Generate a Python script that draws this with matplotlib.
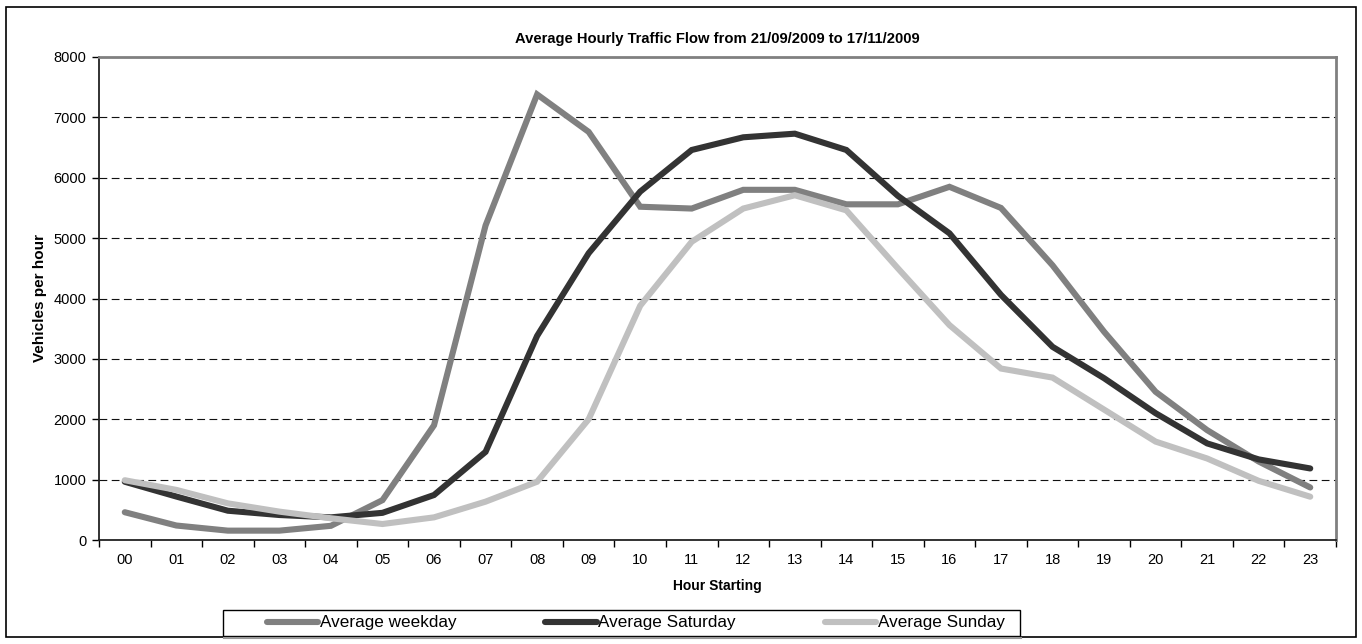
import matplotlib
matplotlib.use("Agg")
import matplotlib.pyplot as plt
from matplotlib.patches import Rectangle
from matplotlib.lines import Line2D

hours = ["00", "01", "02", "03", "04", "05", "06", "07", "08", "09", "10", "11",
         "12", "13", "14", "15", "16", "17", "18", "19", "20", "21", "22", "23"]
weekday = [460, 240, 155, 155, 235, 660, 1900, 5210, 7380, 6760, 5520, 5490,
           5800, 5800, 5560, 5560, 5850, 5500, 4550, 3450, 2455, 1820, 1300, 870]
saturday = [965, 720, 485, 414, 375, 450, 745, 1460, 3380, 4750, 5770, 6460,
            6670, 6730, 6460, 5700, 5080, 4060, 3200, 2680, 2100, 1600, 1335, 1185]
sunday = [990, 830, 607, 470, 360, 265, 375, 635, 965, 2000, 3880, 4940,
          5490, 5710, 5460, 4500, 3560, 2840, 2690, 2160, 1630, 1350, 980, 717]
series_names = ["Average weekday", "Average Saturday", "Average Sunday"]
colors = ["#808080", "#333333", "#c0c0c0"]

plt.rcParams['font.family'] = ['Liberation Sans', 'DejaVu Sans']

W, H = 1362, 644
fig = plt.figure(figsize=(W / 100, H / 100), dpi=100)
fig.patches.append(Rectangle((6/W, 1 - 637/H), 1350/W, 630/H, transform=fig.transFigure,
                             fill=False, edgecolor='black', linewidth=1.2))
ax = fig.add_axes([99/W, 104/H, 1237/W, 483/H])

x = list(range(len(hours)))
for vals, name, c in zip([weekday, saturday, sunday], series_names, colors):
    ax.plot(x, vals, color=c, linewidth=4.4, label=name, solid_capstyle='round',
            solid_joinstyle='miter')

ax.set_xlim(-0.5, 23.5)
ax.set_ylim(0, 8000)
ax.set_yticks(range(0, 8001, 1000))
ax.yaxis.grid(True, linestyle=(0, (7, 4)), color='#111111', linewidth=0.8)
ax.set_axisbelow(True)
ax.set_xticks([i - 0.5 for i in range(25)])
ax.set_xticklabels([])
ax.set_xticks(x, minor=True)
ax.set_xticklabels(hours, minor=True)
ax.tick_params(axis='x', which='minor', length=0, pad=9, labelsize=10.5)
ax.tick_params(axis='x', which='major', length=5, width=1)
ax.tick_params(axis='y', length=5, width=1, labelsize=10.5, pad=4)
for s in ['left', 'bottom']:
    ax.spines[s].set_color('#222222')
    ax.spines[s].set_linewidth(1.3)
for s in ['top', 'right']:
    ax.spines[s].set_color('#808080')
    ax.spines[s].set_linewidth(2)

ax.set_title("Average Hourly Traffic Flow from 21/09/2009 to 17/11/2009",
             fontsize=10.6, fontweight='bold', pad=10)
ax.set_xlabel("Hour Starting", fontsize=10, fontweight='bold', labelpad=9)
ax.set_ylabel("Vehicles per hour", fontsize=11, fontweight='bold', labelpad=5)

# legend box
fig.patches.append(Rectangle((223/W, 1 - 636/H), 797/W, 26/H, transform=fig.transFigure,
                             facecolor='white', edgecolor='black', linewidth=1.0, zorder=1))
fig.lines.append(Line2D([224/W, 1021/W], [1 - 638/H, 1 - 638/H], transform=fig.transFigure,
                        color='#999999', linewidth=1.5))
leg = fig.legend(loc='center left', bbox_to_anchor=(267/W, 1 - 623/H), ncol=3,
                 frameon=False, handlelength=3.0, handletextpad=0.1, columnspacing=5.2,
                 borderpad=0, borderaxespad=0, prop={'size': 12.3})
leg.set_zorder(5)

fig.savefig("out.png", dpi=100)
